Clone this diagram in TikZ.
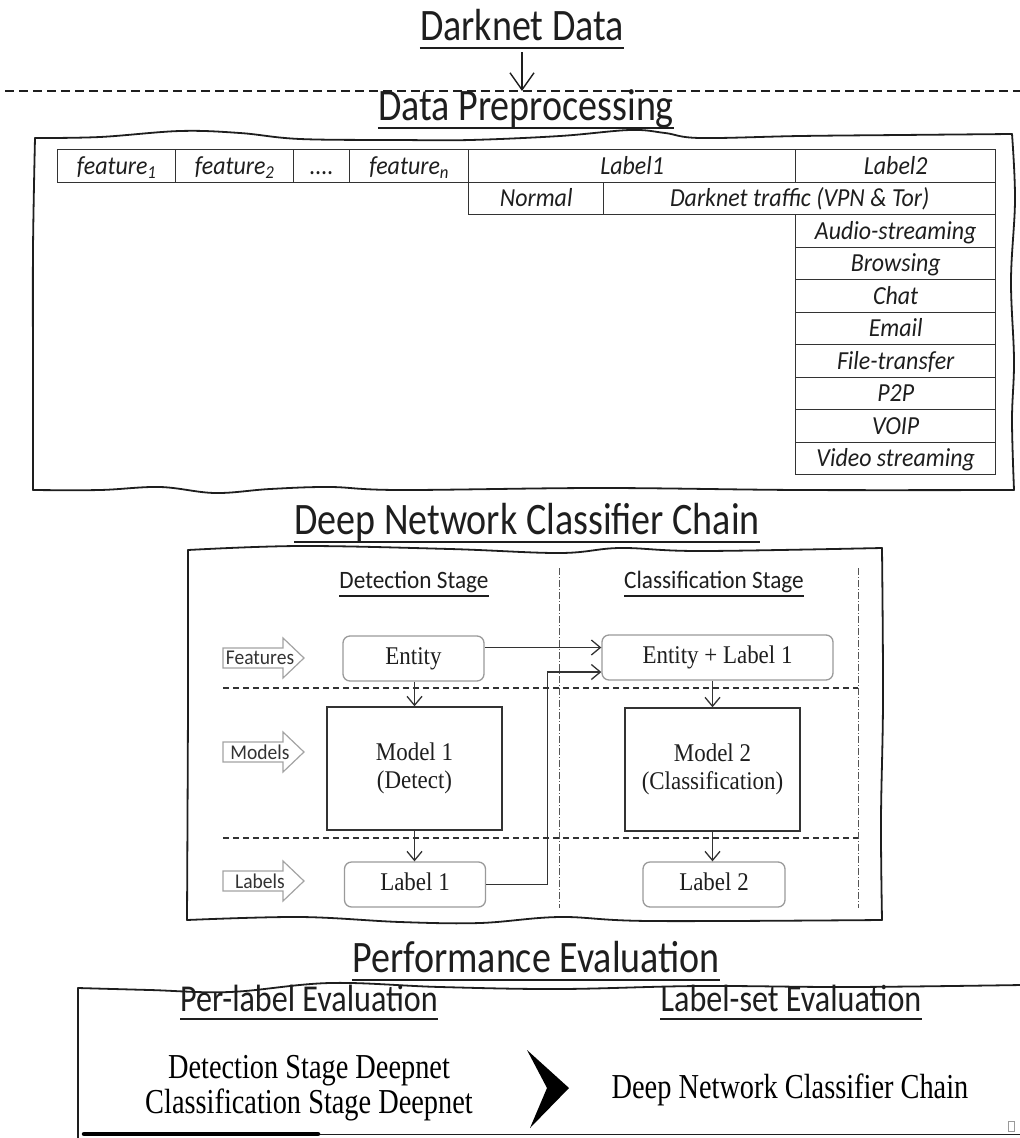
\documentclass[tikz,border=0pt]{standalone}
\usepackage{fontspec}
\setmainfont{Liberation Serif}
\newfontfamily\calib{Carlito}[FakeStretch=0.845]
\newfontfamily\calibcell{Carlito}[FakeStretch=0.92]
\newfontfamily\calibtag{Carlito}[FakeStretch=0.93]
\newfontfamily\tallserif{Liberation Serif}[FakeStretch=0.9]
\newfontfamily\narrowserif{Liberation Serif}[FakeStretch=0.81]
\usetikzlibrary{arrows.meta}

\definecolor{ink}{HTML}{1E1E1E}
\definecolor{tabline}{HTML}{333333}
\definecolor{boxgray}{HTML}{9A9A9A}
\definecolor{arrgray}{HTML}{A3A3A3}
\definecolor{dashgray}{HTML}{555555}

% underline below a title node
\newcommand\drawunder[2][1.8pt]{%
  \draw[ink, line width=#1] ([yshift=-8pt]#2.base west) -- ([yshift=-8pt]#2.base east);}
% hollow grey block arrow with a caption
\newcommand\sidearrow[3]{%
  \draw[arrgray, line width=1.2pt, fill=white]
    (223,#2-10) -- (283,#2-10) -- (283,#2-20) -- (304,#2) -- (283,#2+20)
    -- (283,#2+10) -- (223,#2+10) -- cycle;
  \node[font=\calibtag\fontsize{21}{22}\selectfont, text=tabline, inner sep=0] (#1) at (260,#2) {#3};}

\begin{document}
\begin{tikzpicture}[x=1pt, y=-1pt,
  title/.style={font=\calib\fontsize{45}{48}\selectfont, inner sep=0, anchor=base, text=ink},
  subtitle/.style={font=\calib\fontsize{38}{40}\selectfont, inner sep=0, anchor=base, text=ink},
  stagetitle/.style={font=\calibtag\fontsize{25}{27}\selectfont, inner sep=0, anchor=base, text=ink},
  cell/.style={draw=tabline, line width=1.4pt, minimum height=32.5pt, inner sep=0,
    anchor=north west, font=\calibcell\itshape\fontsize{26}{28}\selectfont,
    text height=18pt, text depth=1pt, text=ink},
  wavy/.style={draw=ink, line width=1.8pt, line join=round, line cap=round},
  rbox/.style={draw=boxgray, line width=1.3pt, rounded corners=7pt, inner sep=0,
    font=\tallserif\fontsize{25.5}{29}\selectfont, text height=17pt, text depth=5pt, text=ink},
  mbox/.style={draw=tabline, line width=1.4pt, inner sep=0, align=center,
    font=\tallserif\fontsize{25.5}{28}\selectfont, text=ink},
  arr/.style={draw=tabline, line width=1.3pt, -{Straight Barb[length=9pt, width=15pt]}},
  bigarr/.style={draw=ink, line width=1.4pt, -{Straight Barb[length=17pt, width=24pt]}},
  hsep/.style={draw=tabline, line width=1.4pt, dash pattern=on 6pt off 4pt},
  vsep/.style={draw=dashgray, line width=1pt, dash pattern=on 7pt off 2pt on 1pt off 2pt},
  narrow/.style={font=\narrowserif\fontsize{35}{38}\selectfont, inner sep=0, anchor=base, text=black}
]
\useasboundingbox (0,0) rectangle (1020,1138);

% ---------------- input ----------------
\node[title] (dd) at (522,40) {Darknet Data};
\drawunder{dd}
\coordinate (sepL) at (5,91);
\coordinate (sepR) at (1020,91);
\draw[ink, line width=2pt, dash pattern=on 9pt off 5pt] (sepL) -- (sepR);
\draw[bigarr] ([yshift=-12pt]dd.base) -- (dd.base |- sepL);

% ---------------- data preprocessing ----------------
\node[title] (dp) at (526,120) {Data Preprocessing};
\drawunder{dp}

\draw[wavy] plot[smooth, tension=0.6] coordinates {(35,138) (100,137) (180,131) (240,133) (300,139) (400,140) (470,140) (560,136) (630,130) (665,133) (700,138) (800,136) (900,135) (1012,134)};
\draw[wavy] plot[smooth, tension=0.6] coordinates {(1012,134) (1015,200) (1011,280) (1014,360) (1012,420) (1014,490)};
\draw[wavy] plot[smooth, tension=0.6] coordinates {(35,138) (33,250) (33,380) (33,490)};
\draw[wavy] plot[smooth, tension=0.6] coordinates {(33,490) (100,490) (160,487) (215,493) (270,489) (330,487) (400,490) (600,488) (800,490) (1014,490)};

\node[cell, minimum width=118pt] (f1) at (57,149) {feature\textsubscript{1}};
\node[cell, minimum width=118pt] (f2) at (175,149) {feature\textsubscript{2}};
\node[cell, minimum width=56pt]  (fd) at (293,149) {....};
\node[cell, minimum width=119pt] (fn) at (349,149) {feature\textsubscript{n}};
\node[cell, minimum width=327pt] (lab1) at (468,149) {Label1};
\node[cell, minimum width=200pt] (lab2) at (795,149) {Label2};
\node[cell, minimum width=135pt] (norm) at (468,181.5) {Normal};
\node[cell, minimum width=392pt] (dark) at (603,181.5) {Darknet traffic (VPN \& Tor)};
\foreach \t [count=\i from 0] in {Audio-streaming, Browsing, Chat, Email,
    File-transfer, P2P, VOIP, Video streaming}
  \node[cell, minimum width=200pt] (cls\i) at (795,214+32.5*\i) {\t};

% ---------------- deep network classifier chain ----------------
\node[title] (dn) at (527,534) {Deep Network Classifier Chain};
\drawunder{dn}

\draw[wavy] plot[smooth, tension=0.6] coordinates {(188,550) (300,546) (450,549) (560,553) (620,548) (700,551) (882,548)};
\draw[wavy] plot[smooth, tension=0.6] coordinates {(882,548) (883,700) (881,820) (882,920)};
\draw[wavy] plot[smooth, tension=0.6] coordinates {(188,550) (188,700) (187,920)};
\draw[wavy] plot[smooth, tension=0.6] coordinates {(187,920) (300,917) (400,922) (480,923) (560,917) (650,921) (882,920)};

\node[stagetitle] (dst) at (414,588) {Detection Stage};
\drawunder[1.3pt]{dst}
\node[stagetitle] (cst) at (714,588) {Classification Stage};
\drawunder[1.3pt]{cst}

\coordinate (v1t) at (559,568); \coordinate (v1b) at (559,908);
\coordinate (v2t) at (858,568); \coordinate (v2b) at (858,908);
\draw[vsep] (v1t) -- (v1b);
\draw[vsep] (v2t) -- (v2b);
\coordinate (h1l) at (223,688); \coordinate (h1r) at (858,688);
\coordinate (h2l) at (223,838); \coordinate (h2r) at (858,838);
\draw[hsep] (h1l) -- (h1r);
\draw[hsep] (h2l) -- (h2r);

\sidearrow{feat}{658}{Features}
\sidearrow{mods}{752}{Models}
\sidearrow{labs}{881}{Labels}

\node[rbox, minimum width=141pt, minimum height=45pt] (ent) at (413.5,658.5) {Entity};
\node[rbox, minimum width=231pt, minimum height=45pt] (entl) at (717.5,657.5) {Entity + Label 1};
\node[mbox, minimum width=175pt, minimum height=123pt] (m1) at (414.5,768.5) {Model 1\\(Detect)};
\node[mbox, minimum width=175pt, minimum height=123pt] (m2) at (712.5,769.5) {Model 2\\(Classification)};
\node[rbox, minimum width=141pt, minimum height=45pt] (l1) at (415,884.5) {Label 1};
\node[rbox, minimum width=142pt, minimum height=45pt] (l2) at (714,884.5) {Label 2};

\draw[arr] (ent.south -| m1.north) -- (m1.north);
\draw[arr] (m1.south) -- (m1.south |- l1.north);
\draw[arr] (entl.south -| m2.north) -- (m2.north);
\draw[arr] (m2.south) -- (m2.south |- l2.north);
\draw[arr] ([yshift=11pt]ent.east) -- ([yshift=11pt]ent.east -| entl.west);
\draw[arr] (l1.east) -- ++(61,0) |- ([yshift=-14.5pt]entl.west);

% ---------------- performance evaluation ----------------
\node[title] (pe) at (536,972) {Performance Evaluation};
\drawunder{pe}

\draw[wavy] plot[smooth, tension=0.6] coordinates {(78,988) (150,990) (230,992) (330,983) (440,987) (560,989) (700,986) (850,987) (1022,985)};
\draw[wavy] (78,988) -- (78,1140);
\draw[ink, line width=1.5pt] (300,1134.5) -- (1022,1134.5);
\draw[black, line width=4.5pt, line cap=round] (84,1134) -- (318,1134);

\node[subtitle] (ple) at (309,1011) {Per-label Evaluation};
\drawunder[1.8pt]{ple}
\node[subtitle] (lse) at (791,1011) {Label-set Evaluation};
\drawunder[1.8pt]{lse}

\node[narrow] (dsd) at (309,1078) {Detection Stage Deepnet};
\node[narrow] (csd) at (309,1113) {Classification Stage Deepnet};
\node[narrow] (dnc) at (790,1098) {Deep Network Classifier Chain};

\fill[black] (527,1050) -- (569,1088) -- (530,1128) -- (547,1088) -- cycle;

\draw[boxgray, line width=0.8pt] (1008,1121) rectangle (1014,1131);
\end{tikzpicture}
\end{document}
